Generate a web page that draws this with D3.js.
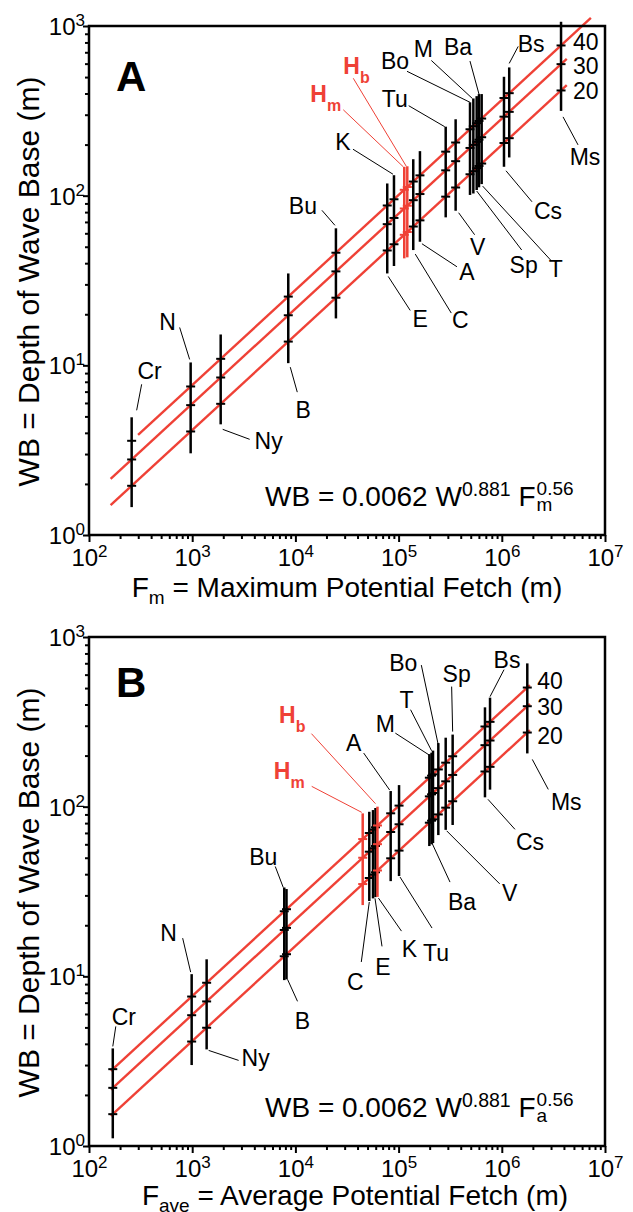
<!DOCTYPE html>
<html><head><meta charset="utf-8">
<script src="https://cdn.jsdelivr.net/npm/d3@7"></script>
<style>
body{margin:0;background:#fff}
svg{display:block}
text{font-family:"Liberation Sans",Arial,Helvetica,sans-serif;fill:#000}
</style>
</head><body>
<svg id="chart" width="633" height="1212"></svg>
<script>
// ---- model printed on the chart: WB = 0.0062 W^0.881 F^0.56 ----
const coef = 0.0062, windExp = 0.881, fetchExp = 0.56;
const winds = [20, 30, 40];
const xTicks = [1e2, 1e3, 1e4, 1e5, 1e6, 1e7];
const yTicks = [1e0, 1e1, 1e2, 1e3];

// ---- Panel A : maximum potential fetch ----
const lakesA = ["Cr","N","Ny","B","Bu","E","K","Hm","Hb","C","A","Tu","V","Bo","M","Sp","Ba","T","Cs","Bs","Ms"];
const fetchA = [259, 966, 1888, 8530, 24700, 77600, 90200, 113500, 121400, 138700, 161000, 286000, 357000, 492000, 530000, 571000, 601000, 638000, 1050000, 1180000, 3750000];
const lowA  = [1.46, 3.03, 4.49, 10.3, 18.9, 34.8, 38.5, 42.7, 43.3, 47.8, 53.5, 74.5, 81.5, 101, 103, 108, 112, 117, 148, 168, 316];
const highA = [4.94, 10.4, 15.2, 34.8, 64.2, 118, 132, 148, 149, 164, 183, 255, 282, 355, 374, 386, 397, 397, 502, 570, 1059];
const lineStartA = [162, 162, 299];
const lineEndA = [4.26e6, 4.26e6, 7.3e6];

// ---- Panel B : average potential fetch ----
const lakesB = ["Cr","N","Ny","Bu","B","Hm","C","E","K","Hb","A","Tu","M","T","Ba","Bo","V","Sp","Cs","Bs","Ms"];
const fetchB = [170, 988, 1380, 7800, 8200, 44900, 52000, 56500, 59700, 62400, 83800, 101000, 198600, 208600, 215500, 242600, 286000, 334000, 687000, 769000, 1766000];
const lowB  = [1.11, 3.0, 3.71, 9.5, 9.6, 26.3, 27.8, 28.8, 29.3, 29.4, 36.4, 39.0, 58.6, 60, 61, 68, 73, 78, 113.5, 126, 206];
const highB = [3.76, 10.3, 12.6, 33.4, 32.7, 91.3, 93.3, 95.5, 98.2, 100, 123.6, 134, 204, 208, 214, 237, 255, 266, 385, 439, 699];
const lineStartB = [163, 163, 163];
const lineEndB = [1.87e6, 1.87e6, 1.87e6];

const redLakes = ["Hm", "Hb"];

// ---- layout of labels (pixel offsets from the bar end they point to) ----
const annotA = {
  Cr:{end:"hi",p1:[10,-33],p2:[5,-7],t:[18,-47]},
  N:{end:"hi",p1:[-11,-35],p2:[-1,-3],t:[-23,-41]},
  Ny:{end:"lo",p1:[29,15],p2:[2,5],t:[48,16]},
  B:{end:"lo",p1:[9,29],p2:[2,4],t:[15,47]},
  Bu:{end:"hi",p1:[-14,-18],p2:[-1,-3],t:[-33,-23]},
  E:{end:"lo",p1:[23,37],p2:[1,3],t:[33,45]},
  K:{end:"hi",p1:[-41,-26],p2:[-1,-1],t:[-51,-33]},
  Hm:{end:"hi",p1:[-61,-57],p2:[-1,0],h:[-94,-65],anchor:"start"},
  Hb:{end:"hi",p1:[-54,-88],p2:[-1,0],h:[-64,-92],anchor:"start"},
  C:{end:"lo",p1:[38,63],p2:[2,4],t:[47,70]},
  A:{end:"lo",p1:[37,25],p2:[2,2],t:[47,30]},
  Tu:{end:"hi",p1:[-37,-21],p2:[-1,0],t:[-51,-28]},
  V:{end:"lo",p1:[19,24],p2:[3,2],t:[22,36]},
  Bo:{end:"hi",p1:[-63,-31],p2:[0,0],t:[-75,-42]},
  M:{end:"hi",p1:[-42,-38],p2:[-1,0],t:[-50,-50]},
  Sp:{end:"lo",p1:[45,60],p2:[0,1],t:[47,75]},
  Ba:{end:"hi",p1:[-9,-33],p2:[0,0],t:[-21,-47]},
  T:{end:"lo",p1:[69,76],p2:[1,2],t:[74,85]},
  Cs:{end:"lo",p1:[28,35],p2:[2,4],t:[44,44]},
  Bs:{end:"hi",p1:[9,-21],p2:[0,-4],t:[22,-24]},
  Ms:{end:"lo",p1:[17,34],p2:[2,6],t:[24,46]}
};
const annotB = {
  Cr:{end:"hi",p1:[3,-22],p2:[0,-2],t:[11,-32]},
  N:{end:"hi",p1:[-9,-36],p2:[-1,-2],t:[-23,-41]},
  Ny:{end:"lo",p1:[32,11],p2:[2,1],t:[49,8]},
  Bu:{end:"hi",p1:[-9,-21],p2:[-1,0],t:[-21,-31]},
  B:{end:"lo",p1:[11,22],p2:[1,0],t:[16,41]},
  Hm:{end:"hi",p1:[-51,-27],p2:[-1,-1],h:[-58,-34],anchor:"end"},
  C:{end:"lo",p1:[-8,61],p2:[0,1],t:[-14,81]},
  E:{end:"lo",p1:[9,48],p2:[2,0],t:[10,68]},
  K:{end:"lo",p1:[26,34],p2:[3,1],t:[34,52]},
  Hb:{end:"hi",p1:[-66,-73],p2:[-2,-3],h:[-72,-84],anchor:"end"},
  A:{end:"hi",p1:[-27,-38],p2:[-1,-1],t:[-37,-48]},
  Tu:{end:"lo",p1:[33,52],p2:[1,1],t:[37,77]},
  M:{end:"hi",p1:[-34,-21],p2:[0,1],t:[-44,-30]},
  T:{end:"hi",p1:[-21,-43],p2:[0,-2],t:[-25,-53]},
  Ba:{end:"lo",p1:[17,39],p2:[-1,0],t:[29,59]},
  Bo:{end:"hi",p1:[-17,-78],p2:[0,2],t:[-35,-80]},
  V:{end:"lo",p1:[54,54],p2:[1,1],t:[64,63]},
  Sp:{end:"hi",p1:[-1,-48],p2:[0,-3],t:[4,-61]},
  Cs:{end:"lo",p1:[30,32],p2:[3,2],t:[45,44]},
  Bs:{end:"hi",p1:[14,-28],p2:[0,-1],t:[17,-38]},
  Ms:{end:"lo",p1:[21,36],p2:[5,6],t:[39,48]}
};

const RED = "#ef4136";
const svg = d3.select("#chart");
const x = d3.scaleLog().domain([1e2, 1e7]).range([89, 605]);
const wb = (w, f) => coef * Math.pow(w, windExp) * Math.pow(f, fetchExp);

function supLabel(sel, supSize, rise) {
  sel.each(function(d) {
    const e = Math.round(Math.log10(d));
    const t = d3.select(this);
    t.text(null);
    t.append("tspan").text("10");
    t.append("tspan").attr("dy", -rise).attr("font-size", supSize).text(e);
  });
}

function panel(cfg) {
  const y = d3.scaleLog().domain([1, 1e3]).range([cfg.bottom, cfg.top]);
  const g = svg.append("g");
  const [x0, x1] = x.range();

  const minorX = [];
  for (let e = 2; e < 7; e++) for (let m = 2; m <= 9; m++) minorX.push(m * Math.pow(10, e));
  const minorY = [];
  for (let e = 0; e < 3; e++) for (let m = 2; m <= 9; m++) minorY.push(m * Math.pow(10, e));

  const axMinX = g.append("g").attr("transform", `translate(0,${cfg.bottom})`)
    .call(d3.axisBottom(x).tickValues(minorX).tickSize(4).tickFormat(""));
  const axX = g.append("g").attr("transform", `translate(0,${cfg.bottom})`)
    .call(d3.axisBottom(x).tickValues(xTicks).tickSize(7).tickPadding(0));
  const axMinY = g.append("g").attr("transform", `translate(${x0},0)`)
    .call(d3.axisLeft(y).tickValues(minorY).tickSize(4).tickFormat(""));
  const axY = g.append("g").attr("transform", `translate(${x0},0)`)
    .call(d3.axisLeft(y).tickValues(yTicks).tickSize(6).tickPadding(0));
  [axMinX, axX, axMinY, axY].forEach(a => {
    a.select(".domain").remove();
    a.selectAll(".tick line").attr("stroke", "#000").attr("stroke-width", 2);
  });
  axX.selectAll(".tick text").attr("y", 31).attr("dy", 0).attr("font-size", 24)
    .attr("font-family", "Liberation Sans, Arial, sans-serif").attr("fill", "#000")
    .attr("text-anchor", "middle").call(supLabel, 17, 9);
  axY.selectAll(".tick text").attr("x", -4).attr("dy", "0.36em").attr("font-size", 24)
    .attr("font-family", "Liberation Sans, Arial, sans-serif").attr("fill", "#000")
    .call(supLabel, 17, 9);

  // model lines
  winds.forEach((w, i) => {
    const pts = [cfg.lineStart[i], cfg.lineEnd[i]].map(f => [x(f), y(wb(w, f))]);
    g.append("path").attr("d", d3.line()(pts)).attr("stroke", RED)
      .attr("stroke-width", 2.4).attr("fill", "none");
  });

  // bars with wind ticks
  const data = cfg.lakes.map((n, i) => ({name: n, f: cfg.fetch[i], lo: cfg.low[i], hi: cfg.high[i]}));
  const order = data.filter(d => !redLakes.includes(d.name)).concat(data.filter(d => redLakes.includes(d.name)));
  order.forEach(d => {
    const col = redLakes.includes(d.name) ? RED : "#000";
    const cx = x(d.f);
    g.append("line").attr("x1", cx).attr("x2", cx).attr("y1", y(d.lo)).attr("y2", y(d.hi))
      .attr("stroke", col).attr("stroke-width", 2.5);
    winds.forEach(w => {
      const ty = y(wb(w, d.f));
      g.append("line").attr("x1", cx - 4.5).attr("x2", cx + 4.5).attr("y1", ty).attr("y2", ty)
        .attr("stroke", col).attr("stroke-width", 2);
    });
  });

  // labels + leaders
  data.forEach(d => {
    const a = cfg.annot[d.name];
    if (!a) return;
    const red = redLakes.includes(d.name);
    const ex = x(d.f), ey = y(a.end === "hi" ? d.hi : d.lo);
    g.append("line").attr("x1", ex + a.p1[0]).attr("y1", ey + a.p1[1])
      .attr("x2", ex + a.p2[0]).attr("y2", ey + a.p2[1])
      .attr("stroke", red ? RED : "#000").attr("stroke-width", 1);
    if (red) {
      const t = g.append("text").attr("x", ex + a.h[0]).attr("y", ey + a.h[1])
        .attr("text-anchor", a.anchor).attr("font-size", 23).attr("font-weight", "bold")
        .style("fill", RED);
      t.append("tspan").text("H");
      t.append("tspan").attr("dy", 9).attr("font-size", 16).text(d.name.slice(1));
    } else {
      g.append("text").attr("x", ex + a.t[0]).attr("y", ey + a.t[1]).attr("dy", "0.36em")
        .attr("text-anchor", "middle").attr("font-size", 23).text(d.name);
    }
  });

  // wind labels next to the last lake
  const last = data[data.length - 1];
  winds.forEach((w, i) => {
    g.append("text").attr("x", x(last.f) + cfg.windDx).attr("y", y(wb(w, last.f)) + cfg.windDy[i])
      .attr("dy", "0.36em").attr("font-size", 23).text(w);
  });

  // frame
  g.append("rect").attr("x", x0).attr("y", cfg.top).attr("width", x1 - x0).attr("height", cfg.bottom - cfg.top)
    .attr("fill", "none").attr("stroke", "#000").attr("stroke-width", 2.5);

  // panel letter
  g.append("text").attr("x", 116).attr("y", cfg.top + cfg.letterDy).attr("font-size", 42)
    .attr("font-weight", "bold").text(cfg.letter);

  // equation
  const eqY = cfg.bottom - 29;
  const eq = g.append("text").attr("x", 265).attr("y", eqY).attr("font-size", 28);
  eq.append("tspan").text("WB = 0.0062 W");
  eq.append("tspan").attr("dy", -10).attr("font-size", 19.5).text("0.881");
  eq.append("tspan").attr("dy", 10).text("\u00a0F");
  const ex = 265 + eq.node().getComputedTextLength() + 1;
  g.append("text").attr("x", ex).attr("y", eqY + 5).attr("font-size", 19).text(cfg.eqSub);
  g.append("text").attr("x", ex).attr("y", eqY - 11).attr("font-size", 19).text("0.56");

  // x title
  const xt = g.append("text").attr("x", cfg.xTitleX).attr("y", cfg.bottom + cfg.xTitleDy)
    .attr("text-anchor", "middle").attr("font-size", 28);
  xt.append("tspan").text("F");
  xt.append("tspan").attr("dy", 7).attr("font-size", 19).text(cfg.xSub);
  xt.append("tspan").attr("dy", -7).text(cfg.xTitle);

  // y title
  g.append("text").attr("transform", `translate(39,${(cfg.top + cfg.bottom) / 2 + 1}) rotate(-90)`)
    .attr("text-anchor", "middle").attr("font-size", 30).text("WB = Depth of Wave Base (m)");
}

panel({letter: "A", letterDy: 65, top: 26, bottom: 535, lakes: lakesA, fetch: fetchA, low: lowA, high: highA,
  lineStart: lineStartA, lineEnd: lineEndA, annot: annotA, windDx: 12, windDy: [0, 2, -4],
  eqSub: "m", xSub: "m", xTitle: " = Maximum Potential Fetch (m)", xTitleX: 347, xTitleDy: 62});
panel({letter: "B", letterDy: 60, top: 637, bottom: 1146, lakes: lakesB, fetch: fetchB, low: lowB, high: highB,
  lineStart: lineStartB, lineEnd: lineEndB, annot: annotB, windDx: 10, windDy: [3, 1, -7],
  eqSub: "a", xSub: "ave", xTitle: " = Average Potential Fetch (m)", xTitleX: 355, xTitleDy: 59});
</script>
</body></html>
